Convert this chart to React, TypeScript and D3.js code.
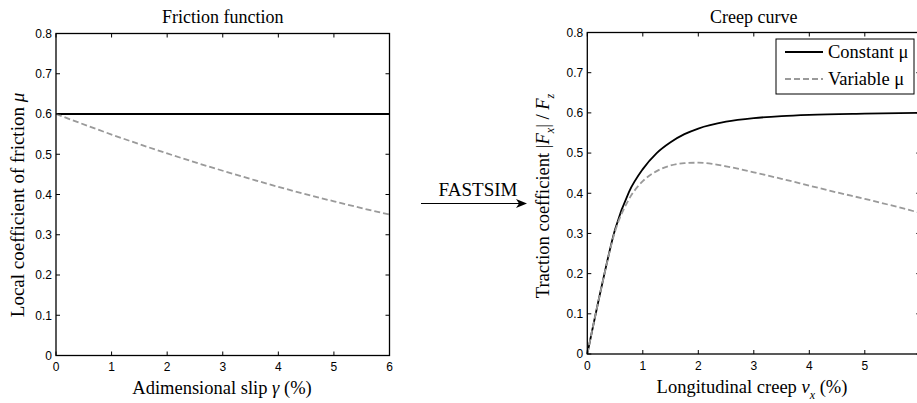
import React from "react";
import * as d3 from "d3";

// ---- Data ----
const slipX = [0, 1, 2, 3, 4, 5, 6];
const muConstant = [0.6, 0.6, 0.6, 0.6, 0.6, 0.6, 0.6];
const muVariable = [0.6, 0.549, 0.502, 0.459, 0.419, 0.383, 0.35];

const creepConstX = [0, 0.25, 0.5, 0.75, 1, 1.25, 1.5, 1.75, 2, 2.5, 3, 3.5, 4, 5, 6];
const tractionConst = [0, 0.163, 0.31, 0.403, 0.46, 0.5, 0.527, 0.547, 0.561, 0.578, 0.587, 0.592, 0.595, 0.598, 0.6];

const creepVarX = [0, 0.25, 0.5, 0.75, 1, 1.25, 1.5, 1.75, 2, 2.25, 2.5, 3, 3.5, 4, 4.5, 5, 5.5, 6];
const tractionVar = [0, 0.163, 0.305, 0.385, 0.43, 0.455, 0.469, 0.475, 0.476, 0.473, 0.467, 0.452, 0.436, 0.419, 0.402, 0.386, 0.369, 0.351];

const xTicks = [0, 1, 2, 3, 4, 5, 6];
const xTickLabelsLeft = ["0", "1", "2", "3", "4", "5", "6"];
const xTickLabelsRight = ["0", "1", "2", "3", "4", "5", ""];
const yTicks = [0, 0.1, 0.2, 0.3, 0.4, 0.5, 0.6, 0.7, 0.8];
const yTickLabels = ["0", "0.1", "0.2", "0.3", "0.4", "0.5", "0.6", "0.7", "0.8"];

const SERIF = "Liberation Serif, Times New Roman, Times, DejaVu Serif, serif";
const SANS = "Liberation Sans, Arial, Helvetica, sans-serif";
const GRAY = "#9a9a9a";

const serif = (size: number): React.CSSProperties => ({ fontFamily: SERIF, fontSize: size + "px" });
const sans = (size: number): React.CSSProperties => ({ fontFamily: SANS, fontSize: size + "px" });

type PanelProps = {
  x0: number; x1: number; y0: number; y1: number;
  xLabels: string[];
  series: { xs: number[]; ys: number[]; dashed: boolean }[];
  title: string;
};

function Panel({ x0, x1, y0, y1, xLabels, series, title }: PanelProps) {
  const xs = d3.scaleLinear().domain([0, 6]).range([x0, x1]);
  const ys = d3.scaleLinear().domain([0, 0.8]).range([y1, y0]);
  const tl = 4;
  return (
    <g>
      <text x={(x0 + x1) / 2} y={22.5} textAnchor="middle" style={serif(18)}>{title}</text>
      {series.map((s, i) => {
        const line = d3.line<number>()
          .x((_, j) => xs(s.xs[j]))
          .y((d) => ys(d))
          .curve(d3.curveMonotoneX);
        return (
          <path key={i} d={line(s.ys) || ""} fill="none"
            stroke={s.dashed ? GRAY : "#000"}
            strokeWidth={1.8}
            strokeDasharray={s.dashed ? "6,3" : undefined} />
        );
      })}
      <rect x={x0} y={y0} width={x1 - x0} height={y1 - y0} fill="none" stroke="#000" strokeWidth={1.3} />
      {xTicks.map((t, i) => (
        <g key={"xt" + i}>
          <line x1={xs(t)} x2={xs(t)} y1={y1} y2={y1 - tl} stroke="#000" strokeWidth={1} />
          <line x1={xs(t)} x2={xs(t)} y1={y0} y2={y0 + tl} stroke="#000" strokeWidth={1} />
          <text x={xs(t)} y={y1 + 15.5} textAnchor="middle" style={sans(12)}>{xLabels[i]}</text>
        </g>
      ))}
      {yTicks.map((t, i) => (
        <g key={"yt" + i}>
          <line x1={x0} x2={x0 + tl} y1={ys(t)} y2={ys(t)} stroke="#000" strokeWidth={1} />
          <line x1={x1} x2={x1 - tl} y1={ys(t)} y2={ys(t)} stroke="#000" strokeWidth={1} />
          <text x={x0 - 4} y={ys(t) + 4.3} textAnchor="end" style={sans(12)}>{yTickLabels[i]}</text>
        </g>
      ))}
    </g>
  );
}

export default function App() {
  return (
    <svg width={917} height={403} style={{ position: "fixed", left: 0, top: 0, background: "#fff" }}>
      <rect x={0} y={0} width={917} height={403} fill="#fff" />
      <Panel x0={56} x1={389.5} y0={33.5} y1={355.5} xLabels={xTickLabelsLeft} title="Friction function"
        series={[
          { xs: slipX, ys: muConstant, dashed: false },
          { xs: slipX, ys: muVariable, dashed: true },
        ]} />
      <Panel x0={587.3} x1={920.3} y0={32.5} y1={354} xLabels={xTickLabelsRight} title="Creep curve"
        series={[
          { xs: creepConstX, ys: tractionConst, dashed: false },
          { xs: creepVarX, ys: tractionVar, dashed: true },
        ]} />

      {/* Left axis labels */}
      <text transform="translate(23.5,205) rotate(-90)" textAnchor="middle" style={serif(19)}>
        Local coefficient of friction <tspan fontStyle="italic">μ</tspan>
      </text>
      <text x={222} y={394} textAnchor="middle" style={serif(18.5)}>
        Adimensional slip <tspan fontStyle="italic">γ</tspan> (%)
      </text>

      {/* Right axis labels */}
      <text transform="translate(548.5,196) rotate(-90)" textAnchor="middle" style={serif(18.5)}>
        Traction coefficient  |<tspan fontStyle="italic">F</tspan><tspan fontStyle="italic" style={{ fontSize: "12px" }} dy={5}>x</tspan><tspan dy={-5}>| / </tspan><tspan fontStyle="italic">F</tspan><tspan fontStyle="italic" style={{ fontSize: "12px" }} dy={5}>z</tspan>
      </text>
      <text x={752} y={393} textAnchor="middle" style={serif(18.5)}>
        Longitudinal creep  <tspan fontStyle="italic">ν</tspan><tspan fontStyle="italic" style={{ fontSize: "12px" }} dy={6}>x</tspan><tspan dy={-6}>  (%)</tspan>
      </text>

      {/* FASTSIM arrow */}
      <text x={478} y={196} textAnchor="middle" style={serif(19)}>FASTSIM</text>
      <line x1={421} x2={524} y1={203.5} y2={203.5} stroke="#000" strokeWidth={1} />
      <path d="M 527 203.5 L 516 199 L 519 203.5 L 516 208 Z" fill="#000" />

      {/* Legend */}
      <rect x={776} y={39} width={138} height={55} fill="#fff" stroke="#000" strokeWidth={1} />
      <line x1={785} x2={823} y1={52} y2={52} stroke="#000" strokeWidth={1.8} />
      <text x={828} y={58} style={serif(18.5)}>Constant μ</text>
      <line x1={785} x2={823} y1={79} y2={79} stroke={GRAY} strokeWidth={1.8} strokeDasharray="6,3" />
      <text x={828} y={85} style={serif(18.5)}>Variable μ</text>
    </svg>
  );
}
